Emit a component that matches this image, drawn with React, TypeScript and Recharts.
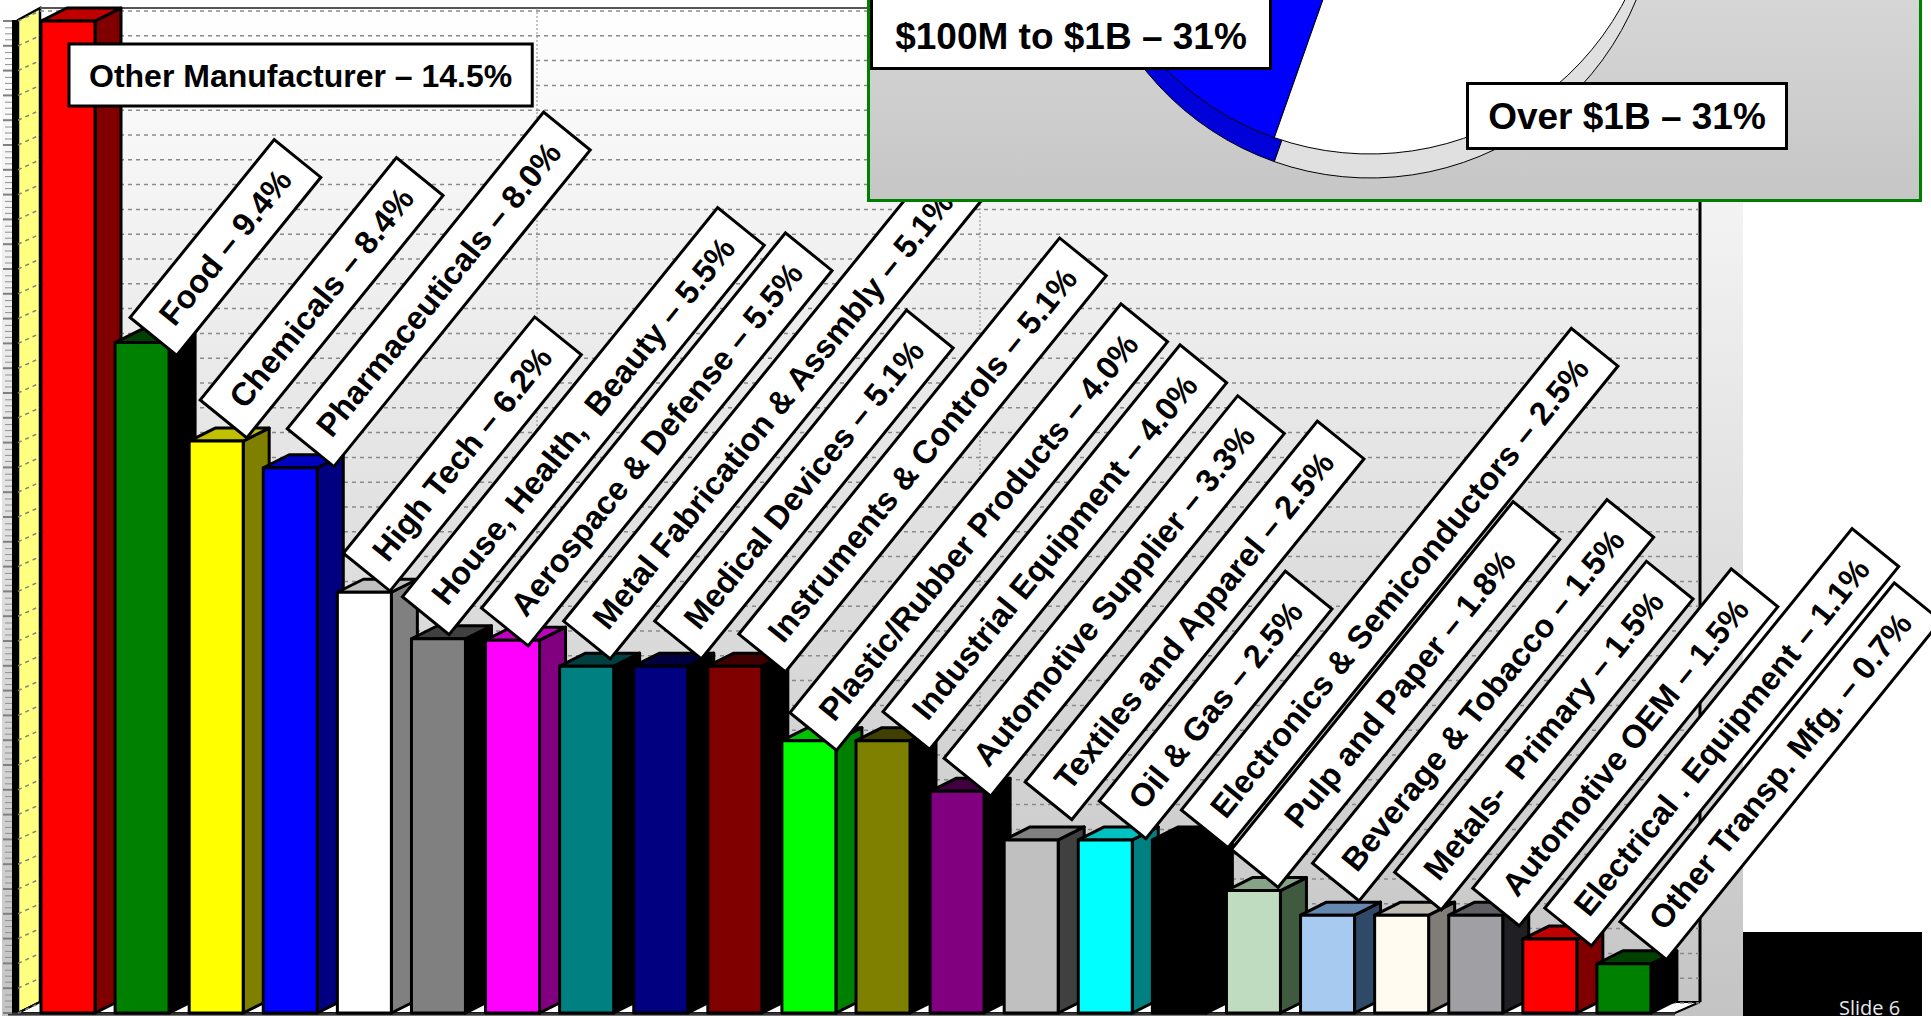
import React from 'react';
import { BarChart, Bar, XAxis, YAxis, CartesianGrid, LabelList, PieChart, Pie, Cell } from 'recharts';

// Bar heights (the Food bar stands a little taller than its caption says)
const industries = [
  'Other Manufacturer', 'Food', 'Chemicals', 'Pharmaceuticals', 'High Tech', 'House, Health,  Beauty',
  'Aerospace & Defense', 'Metal Fabrication & Assmbly', 'Medical Devices', 'Instruments & Controls',
  'Plastic/Rubber Products', 'Industrial Equipment', 'Automotive Supplier', 'Textiles and Apparel',
  'Oil & Gas', 'Electronics & Semiconductors', 'Pulp and Paper', 'Beverage & Tobacco', 'Metals-  Primary',
  'Automotive OEM', 'Electrical . Equipment', 'Other Transp. Mfg.',
];
const barValues = [14.5, 9.8, 8.36, 7.97, 6.15, 5.47, 5.45, 5.07, 5.07, 5.07, 3.98, 3.98, 3.24, 2.53, 2.53, 2.53, 1.79, 1.43, 1.43, 1.43, 1.08, 0.72];
const captionValues = ['14.5', '9.4', '8.4', '8.0', '6.2', '5.5', '5.5', '5.1', '5.1', '5.1', '4.0', '4.0', '3.3', '2.5', '2.5', '2.5', '1.8', '1.5', '1.5', '1.5', '1.1', '0.7'];
const gridTicks = [
  0, 0.3625, 0.725, 1.0875, 1.45, 1.8125, 2.175, 2.5375, 2.9, 3.2625, 3.625, 3.9875, 4.35, 4.7125,
  5.075, 5.4375, 5.8, 6.1625, 6.525, 6.8875, 7.25, 7.6125, 7.975, 8.3375, 8.7, 9.0625, 9.425, 9.7875,
  10.15, 10.5125, 10.875, 11.2375, 11.6, 11.9625, 12.325, 12.6875, 13.05, 13.4125, 13.775, 14.1375, 14.5,
];

const revenueBands = ['$100M to $1B', 'Over $1B', 'Under $100M'];
const revenueShares = [31, 31, 38];

const frontColors = ['#ff0000', '#008000', '#ffff00', '#0000ff', '#ffffff', '#808080', '#ff00ff', '#008080', '#000080', '#800000', '#00ff00', '#808000', '#800080', '#c0c0c0', '#00ffff', '#000000', '#c0dcc0', '#a6caf0', '#fffbf0', '#a0a0a4', '#ff0000', '#008000'];
const sideColors = ['#800000', '#000000', '#808000', '#000080', '#808080', '#000000', '#800080', '#000000', '#000000', '#000000', '#008000', '#000000', '#000000', '#404040', '#008080', '#000000', '#3f5a3f', '#2f4a68', '#807d78', '#202024', '#800000', '#000000'];
const topColors = ['#c00000', '#004000', '#c0c000', '#0000c0', '#c0c0c0', '#404040', '#c000c0', '#004040', '#000040', '#400000', '#00c000', '#404000', '#400040', '#808080', '#00c0c0', '#000000', '#87a387', '#6488b0', '#c0bdb4', '#606064', '#c00000', '#004000'];

// where each caption's lower left corner sits, relative to the top left of its bar
const captionNudge = [
  [28, 23], [15, -25], [11, -41], [24, -39], [6, -39], [-9, -42], [-4, -32], [4, -45], [21, -45], [31, -32], [8, -28],
  [27, -29], [14, -33], [21, -58], [21, -39], [29, -30], [5, -41], [12, -52], [20, -43], [24, -27], [22, -31], [23, -42],
];
// the Pulp and Paper box is drawn longer than its text needs
const captionPads: Record<number, [number, number]> = { 16: [58, 44] };

const tableData = industries.map((name, i) => ({ name, value: barValues[i] }));
const pieData = revenueBands.map((name, i) => ({ name, value: revenueShares[i] }));

const pieTop = ['#0000ff', '#ffffff', '#c8c8c8'];
const pieSide = ['#0000d8', '#e0e0e0', '#c8c8c8'];

const FONT = '"Liberation Sans", Arial, sans-serif';
const DEPTH = 26;
const BASE_Y = 1013;

const measure = (text: string, size: number) => {
  const ctx = document.createElement('canvas').getContext('2d');
  if (!ctx) return text.length * 17;
  ctx.font = `bold ${size}px ${FONT}`;
  return ctx.measureText(text).width;
};

const Box3D = (props: any) => {
  const { x, y, width, index } = props;
  const d = DEPTH;
  const rise = 13;
  const r = x + width;
  return (
    <g stroke="#000" strokeWidth={3} strokeLinejoin="round">
      <polygon points={`${r},${y} ${r + d},${y - rise} ${r + d},${BASE_Y - rise} ${r},${BASE_Y}`} fill={sideColors[index]} />
      <polygon points={`${x},${y} ${x + d},${y - rise} ${r + d},${y - rise} ${r},${y}`} fill={topColors[index]} />
      <rect x={x} y={y} width={width} height={BASE_Y - y} fill={frontColors[index]} />
    </g>
  );
};

const Caption = (props: any) => {
  const { x, y, index } = props;
  const text = `${industries[index]} – ${captionValues[index]}%`;
  const flat = index === 0;
  const size = flat ? 32 : 32.4;
  const [lead, tail] = captionPads[index] || [20, 20];
  const len = measure(text, size) + lead + tail;
  const [dx, dy] = captionNudge[index];
  return (
    <g transform={`translate(${x + dx},${y + dy}) rotate(${flat ? 0 : -51})`}>
      <rect width={len} height={flat ? 62 : 60} fill="#fff" stroke="#000" strokeWidth={3} />
      <text x={lead} y={flat ? 43 : 41} fontFamily={FONT} fontWeight={700} fontSize={size} fill="#000" style={{ whiteSpace: 'pre' }}>
        {text}
      </text>
    </g>
  );
};

const AxisTick = (props: any) => {
  const { y } = props;
  return (
    <g>
      <line x1={3} x2={12} y1={y} y2={y} stroke="#808080" strokeWidth={2} />
      {y > 30 && [6, 12, 18].map(s => (
        <line key={s} x1={5} x2={12} y1={y - s} y2={y - s} stroke="#909090" strokeWidth={1} />
      ))}
      <line x1={18} x2={40} y1={y} y2={y - 10} stroke="#808080" strokeWidth={1.5} strokeDasharray="4 4" />
    </g>
  );
};

const Walls = () => (
  <svg width={1931} height={1016} style={{ position: 'absolute', left: 0, top: 0 }}>
    <rect x={12} y={20} width={6} height={994} fill="#000" />
    <polygon points="18,20 40,8 40,1002 18,1013" fill="#ffff80" stroke="#000" strokeWidth={2.5} />
    <polygon points="18,1013 40,1002 1700,1002 1675,1013" fill="#fff" stroke="#000" strokeWidth={2} />
    <line x1={40} x2={1700} y1={8} y2={8} stroke="#555" strokeWidth={2} />
    <line x1={1700} x2={1700} y1={8} y2={1002} stroke="#000" strokeWidth={3} />
    <line x1={8} x2={1675} y1={1014} y2={1014} stroke="#333" strokeWidth={3} />
  </svg>
);

const boxStyle: React.CSSProperties = {
  position: 'absolute',
  background: '#fff',
  border: '3px solid #000',
  boxSizing: 'border-box',
  fontFamily: FONT,
  fontWeight: 700,
  fontSize: 37,
  textAlign: 'center',
  color: '#000',
  whiteSpace: 'nowrap',
};

const App: React.FC = () => (
  <div style={{ position: 'absolute', left: 0, top: 0, width: 1931, height: 1016, overflow: 'hidden', background: '#fff' }}>
    <div style={{ position: 'absolute', left: 2, top: 0, width: 1741, height: 1016, background: 'linear-gradient(#ffffff, #c4c4c4)' }} />
    <Walls />
    <div style={{ position: 'absolute', left: 0, top: 0 }}>
      <BarChart width={1931} height={1016} data={tableData} margin={{ top: 21, right: 270, bottom: 3, left: 0 }} barSize={54}>
        <CartesianGrid
          horizontal={(p: any) => (
            <line key={`h-${p.index}`} x1={40} x2={1699} y1={p.y1 - 10} y2={p.y1 - 10} stroke="#8a8a8a" strokeWidth={1.5} strokeDasharray="4 4" />
          )}
          vertical={(p: any) => (
            <line key={`v-${p.index}`} x1={p.x1} x2={p.x1} y1={8} y2={1002} stroke="#8a8a8a" strokeDasharray="2 2" />
          )}
          verticalCoordinatesGenerator={() => [537, 980]}
        />
        <XAxis dataKey="name" hide />
        <YAxis width={31} domain={[0, 14.5]} ticks={gridTicks} interval={0} axisLine={false} tickLine={false} tick={<AxisTick />} />
        <Bar dataKey="value" shape={<Box3D />} isAnimationActive={false}>
          <LabelList dataKey="value" content={<Caption />} />
        </Bar>
      </BarChart>
    </div>
    <div style={{ position: 'absolute', left: 867, top: -3, width: 1055, height: 205, boxSizing: 'border-box', border: '3px solid #008000', overflow: 'hidden', background: 'linear-gradient(#d6d6d6, #c6c6c6)' }}>
      <div style={{ position: 'absolute', left: 95, top: -539 }}>
        <PieChart width={800} height={800}>
          <Pie data={pieData} dataKey="value" cx={400} cy={424} outerRadius={288} startAngle={139} endAngle={499} stroke="#000" strokeWidth={1} isAnimationActive={false}>
            {pieData.map((_, i) => <Cell key={`side-${i}`} fill={pieSide[i]} />)}
          </Pie>
          <Pie data={pieData} dataKey="value" cx={400} cy={400} outerRadius={288} startAngle={139} endAngle={499} stroke="#000" strokeWidth={1} isAnimationActive={false}>
            {pieData.map((_, i) => <Cell key={`top-${i}`} fill={pieTop[i]} />)}
          </Pie>
        </PieChart>
      </div>
    </div>
    <div style={{ ...boxStyle, left: 870, top: -6, width: 402, height: 76, lineHeight: '80px' }}>{`${revenueBands[0]} – ${revenueShares[0]}%`}</div>
    <div style={{ ...boxStyle, left: 1466, top: 82, width: 322, height: 68, lineHeight: '64px' }}>{`${revenueBands[1]} – ${revenueShares[1]}%`}</div>
    <div style={{ position: 'absolute', left: 1743, top: 932, width: 179, height: 84, background: '#000', overflow: 'hidden' }}>
      <div style={{ position: 'absolute', left: 96, top: 66, lineHeight: '20px', color: '#e8e8e8', fontFamily: '"Open Sans", sans-serif', fontSize: 20, whiteSpace: 'nowrap' }}>Slide 6</div>
    </div>
  </div>
);

export default App;
